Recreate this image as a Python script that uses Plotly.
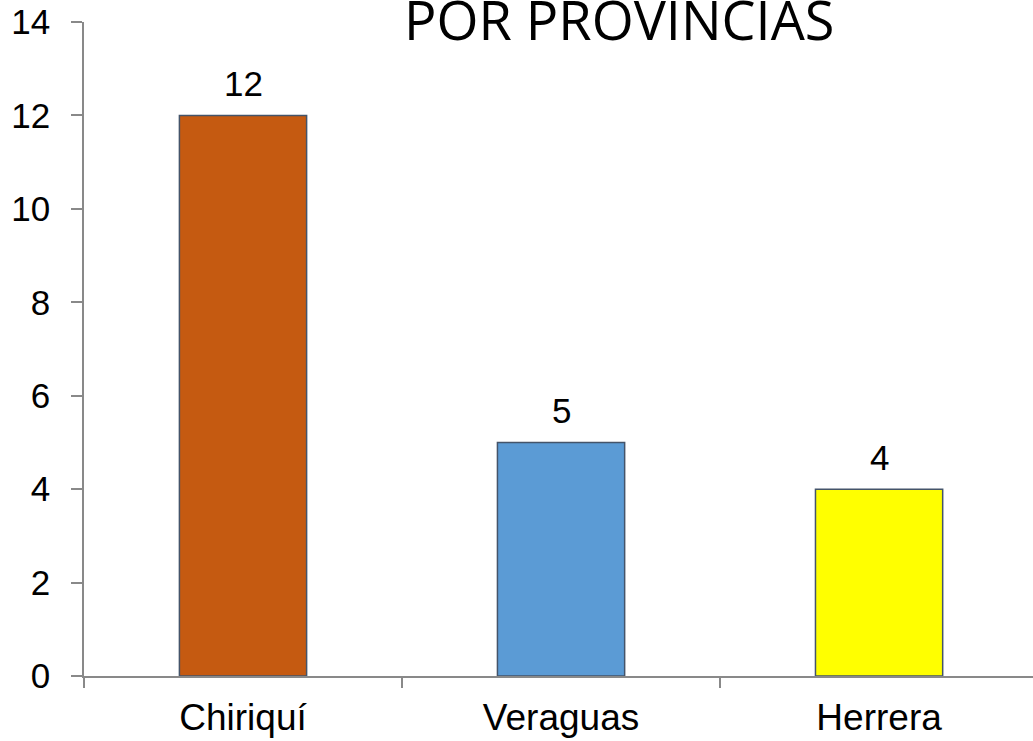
import plotly.graph_objects as go

categories = ["Chiriquí", "Veraguas", "Herrera"]
values = [12, 5, 4]
colors = ["#C55A11", "#5B9BD5", "#FFFF00"]
y_ticks = [0, 2, 4, 6, 8, 10, 12, 14]
title_text = "POR PROVINCIAS"

fig = go.Figure()
fig.add_trace(go.Bar(
    x=categories, y=values,
    marker=dict(color=colors, line=dict(color="#44546A", width=1.5)),
    width=0.4,
    cliponaxis=False,
))

for c, v in zip(categories, values):
    fig.add_annotation(x=c, y=v, text=str(v), showarrow=False,
                       yanchor="bottom", yshift=10,
                       font=dict(family="Liberation Sans, Arial", size=35, color="#000000"))

fig.add_annotation(xref="paper", yref="paper", x=0.564, y=1.005, text=title_text,
                   showarrow=False, xanchor="center", yanchor="middle",
                   font=dict(family="Open Sans, Calibri", size=54, color="#000000"))

fig.update_layout(
    width=1033, height=741,
    margin=dict(l=84, r=0, t=22, b=65),
    paper_bgcolor="white", plot_bgcolor="white",
    showlegend=False,
)
fig.update_xaxes(
    range=[-0.5, 2.484],
    showline=True, linecolor="#898989", linewidth=1.5,
    ticks="outside", tickson="boundaries", ticklen=10, tickcolor="#898989", tickwidth=1.5,
    tickfont=dict(family="Liberation Sans, Arial", size=37, color="#000000"),
    ticklabelstandoff=8,
    showgrid=False, zeroline=False,
)
fig.update_yaxes(
    range=[0, 14], tickvals=y_ticks,
    showline=True, linecolor="#898989", linewidth=1.5,
    ticks="outside", ticklen=11, tickcolor="#898989", tickwidth=1.5,
    tickfont=dict(family="Liberation Sans, Arial", size=35, color="#000000"),
    ticklabelstandoff=14,
    showgrid=False, zeroline=False,
)

fig.write_html("out.html", config={"displayModeBar": False},
               post_script="document.body.style.margin='0';")
